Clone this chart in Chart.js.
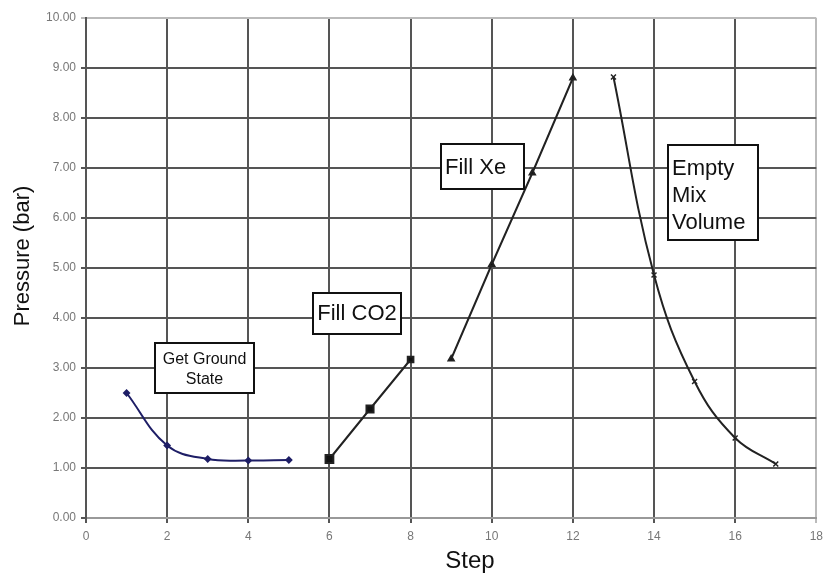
<!DOCTYPE html>
<html>
<head>
<meta charset="utf-8">
<script src="https://cdn.jsdelivr.net/npm/chart.js@4.4.1/dist/chart.umd.min.js"></script>
<style>
  html, body { margin: 0; padding: 0; background: #fff; }
  #wrap { width: 829px; height: 577px; }
</style>
</head>
<body>
<div id="wrap"><canvas id="chart" width="829" height="577"></canvas></div>
<script>
// ---------- data ----------
const groundSteps = [1, 2, 3, 4, 5];
const groundPressure = [2.5, 1.45, 1.18, 1.15, 1.16];

const co2Steps = [6, 7, 8];
const co2Pressure = [1.18, 2.18, 3.17];

const xeSteps = [9, 10, 11, 12];
const xePressure = [3.18, 5.07, 6.9, 8.8];

const emptySteps = [13, 14, 15, 16, 17];
const emptyPressure = [8.82, 4.86, 2.73, 1.6, 1.08];

const noteTexts = [
  ["Get Ground", "State"],
  ["Fill CO2"],
  ["Fill Xe"],
  ["Empty", "Mix", "Volume"]
];

const xTitle = 'Step';
const yTitle = 'Pressure (bar)';

const FONT = '"Liberation Sans", Arial, sans-serif';
const toPoints = (xs, ys) => xs.map((x, i) => ({ x: x, y: ys[i] }));

// ---------- text boxes + axis titles ----------
const notesPlugin = {
  id: 'notes',
  afterDraw(chart) {
    const ctx = chart.ctx;
    const boxes = [
      { l: 155, t: 343, w: 99, h: 50, size: 16, lh: 20, align: 'center', first: 360 },
      { l: 313, t: 293, w: 88, h: 41, size: 22, lh: 22, align: 'center', first: 314 },
      { l: 441, t: 144, w: 83, h: 45, size: 22, lh: 22, align: 'left', first: 168, tx: 445 },
      { l: 668, t: 145, w: 90, h: 95, size: 22, lh: 27, align: 'left', first: 169, tx: 672 }
    ];
    ctx.save();
    boxes.forEach((b, i) => {
      ctx.fillStyle = '#fff';
      ctx.fillRect(b.l, b.t, b.w, b.h);
      ctx.strokeStyle = '#111';
      ctx.lineWidth = 2;
      ctx.strokeRect(b.l, b.t, b.w, b.h);
      ctx.fillStyle = '#111';
      ctx.font = b.size + 'px ' + FONT;
      ctx.textBaseline = 'middle';
      ctx.textAlign = b.align;
      const x = b.align === 'center' ? b.l + b.w / 2 : b.tx;
      noteTexts[i].forEach((line, j) => ctx.fillText(line, x, b.first + j * b.lh));
    });

    // axis titles
    ctx.fillStyle = '#111';
    ctx.textAlign = 'center';
    ctx.textBaseline = 'middle';
    ctx.font = '24px ' + FONT;
    ctx.fillText(xTitle, 470, 561);
    ctx.translate(23, 256);
    ctx.rotate(-Math.PI / 2);
    ctx.font = '22px ' + FONT;
    ctx.fillText(yTitle, 0, 0);
    ctx.restore();
  }
};

// ---------- chart ----------
const yGridColor = ctx => (ctx.tick && ctx.tick.value === 10) ? '#bbb' : '#555';
const xGridColor = ctx => (ctx.tick && ctx.tick.value === 18) ? '#bbb' : '#555';

new Chart(document.getElementById('chart'), {
  type: 'scatter',
  data: {
    datasets: [
      {
        label: 'Get Ground State',
        data: toPoints(groundSteps, groundPressure),
        showLine: true,
        tension: 0.4,
        borderColor: '#1e1e66',
        backgroundColor: '#1e1e66',
        borderWidth: 2,
        pointStyle: 'rectRot',
        pointRadius: 2.5
      },
      {
        label: 'Fill CO2',
        data: toPoints(co2Steps, co2Pressure),
        showLine: true,
        tension: 0,
        borderColor: '#222',
        backgroundColor: '#111',
        borderWidth: 2,
        pointStyle: 'rect',
        pointRadius: [5.5, 5, 4]
      },
      {
        label: 'Fill Xe',
        data: toPoints(xeSteps, xePressure),
        showLine: true,
        tension: 0,
        borderColor: '#222',
        backgroundColor: '#111',
        borderWidth: 2,
        pointStyle: 'triangle',
        pointRadius: 3
      },
      {
        label: 'Empty Mix Volume',
        data: toPoints(emptySteps, emptyPressure),
        showLine: true,
        tension: 0.4,
        borderColor: '#222',
        backgroundColor: '#111',
        borderWidth: 2,
        pointStyle: 'crossRot',
        pointRadius: 3.5,
        pointBorderWidth: 1.5
      }
    ]
  },
  options: {
    responsive: false,
    animation: false,
    layout: { padding: { top: 18, right: 8, left: 0, bottom: 0 } },
    plugins: {
      legend: { display: false },
      tooltip: { enabled: false }
    },
    scales: {
      x: {
        type: 'linear',
        min: 0,
        max: 18,
        ticks: {
          stepSize: 2,
          color: '#777',
          padding: 6,
          font: { family: FONT, size: 12 }
        },
        grid: { color: xGridColor, lineWidth: 2, tickLength: 5 },
        border: { color: '#999', width: 2 },
        afterFit: s => { s.height = 59; }
      },
      y: {
        min: 0,
        max: 10,
        ticks: {
          stepSize: 1,
          color: '#777',
          padding: 5,
          callback: v => v.toFixed(2),
          font: { family: FONT, size: 12 }
        },
        grid: { color: yGridColor, lineWidth: 2, tickLength: 5 },
        border: { color: '#555', width: 2 },
        afterFit: s => { s.width = 86; }
      }
    }
  },
  plugins: [notesPlugin]
});
</script>
</body>
</html>
